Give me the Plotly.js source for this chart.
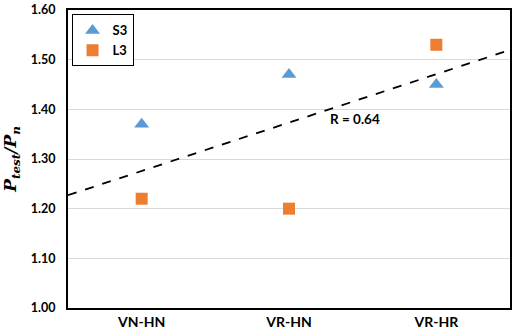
<!DOCTYPE html>
<html><head><meta charset="utf-8">
<script src="https://cdn.plot.ly/plotly-3.0.1.min.js"></script>
<style>body{margin:0;background:#fff}#c{width:516px;height:334px}</style>
</head><body><div id="c"></div>
<script>
const categories = ["VN-HN", "VR-HN", "VR-HR"];
const xPos = [1, 2, 3];
const s3Values = [1.37, 1.47, 1.45];
const l3Values = [1.22, 1.20, 1.53];
const rLabel = "R\u00a0=\u00a00.64";

// linear trend fitted to all points
const allX = xPos.concat(xPos), allY = s3Values.concat(l3Values);
const n = allX.length;
const mx = allX.reduce((a,b)=>a+b,0)/n, my = allY.reduce((a,b)=>a+b,0)/n;
let sxy=0, sxx=0;
for (let i=0;i<n;i++){sxy+=(allX[i]-mx)*(allY[i]-my); sxx+=(allX[i]-mx)**2;}
const slope = sxy/sxx, icpt = my - slope*mx;
const tx = [0.5, 3.5];
const ty = tx.map(x=>icpt+slope*x);

const fam = "Lato, 'Liberation Sans', sans-serif";
const data = [
  {x:xPos, y:s3Values, name:"S3", type:"scatter", mode:"markers",
   marker:{symbol:"triangle-up", size:13, color:"#5b9bd5"}},
  {x:xPos, y:l3Values, name:"L3", type:"scatter", mode:"markers",
   marker:{symbol:"square", size:12, color:"#ed7d31"}},
  {x:tx, y:ty, type:"scatter", mode:"lines", showlegend:false,
   line:{color:"#000", width:1.8, dash:"dash"}, hoverinfo:"skip"}
];
const layout = {
  width:516, height:334,
  margin:{l:68, r:6, t:10, b:26},
  paper_bgcolor:"#fff", plot_bgcolor:"#fff",
  showlegend:true,
  legend:{x:0.008, y:0.985, xanchor:"left", yanchor:"top", bordercolor:"#000", borderwidth:1,
          font:{family:fam, size:13, color:"#000", weight:"bold"},
          bgcolor:"#fff", tracegroupgap:0, itemwidth:30},
  xaxis:{range:[0.5,3.5], tickvals:xPos, ticktext:categories, showgrid:false, zeroline:false,
         showline:true, linecolor:"#000", linewidth:2, mirror:true, ticks:"",
         tickfont:{family:fam, size:14, color:"#000", weight:"bold"}, fixedrange:true},
  yaxis:{range:[1.0,1.6], dtick:0.1, tickformat:".2f", showgrid:true, gridcolor:"#d9d9d9", gridwidth:1,
         zeroline:false, showline:true, linecolor:"#000", linewidth:2, mirror:true, ticks:"",
         tickfont:{family:fam, size:12.5, color:"#000", weight:"bold"}, ticklabelstandoff:8,
         title:{text:"<b><i>P</i></b><sub><b><i>test</i></b></sub><b><i>/P</i></b><sub><b><i>n</i></b></sub>",
                font:{family:"'DejaVu Serif', 'Liberation Serif', serif", size:17, color:"#000"}, standoff:10}},
  annotations:[{x:2.45, y:1.38, xref:"x", yref:"y", text:rLabel, showarrow:false,
                font:{family:fam, size:13.5, color:"#000", weight:"bold"}}]
};
Plotly.newPlot("c", data, layout, {displayModeBar:false, staticPlot:true});
</script></body></html>
